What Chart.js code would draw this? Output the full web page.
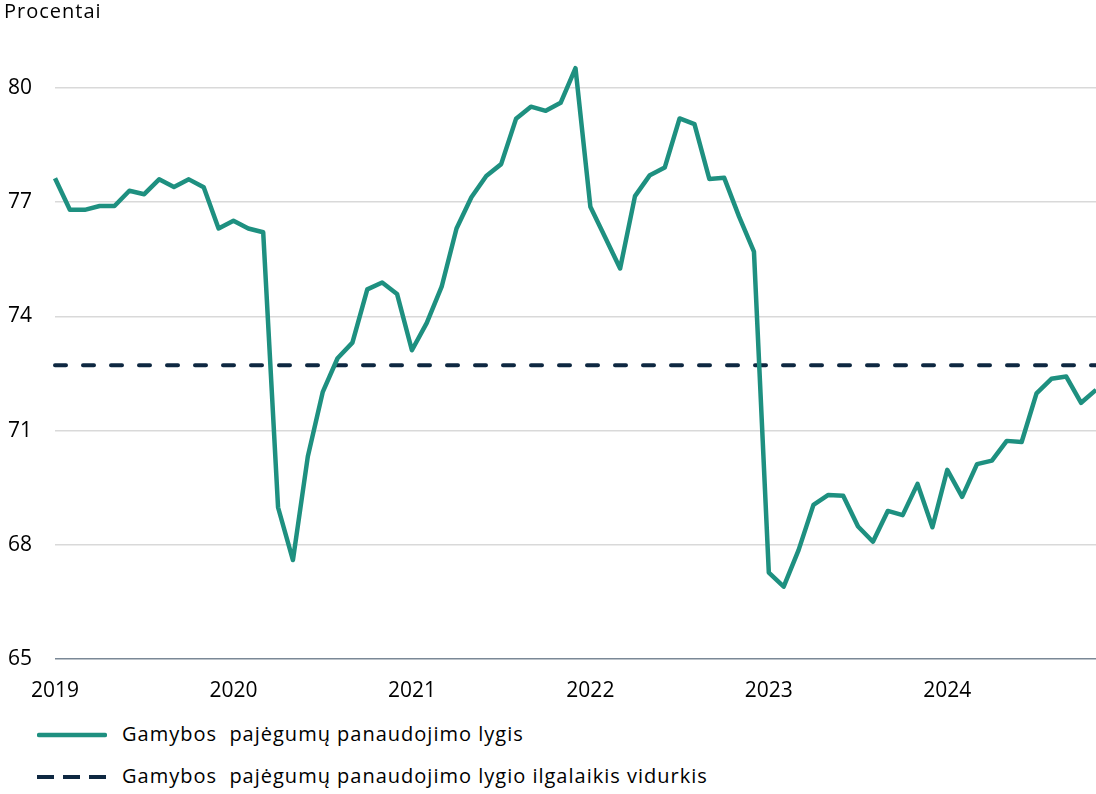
<!DOCTYPE html>
<html>
<head>
<meta charset="utf-8">
<script src="https://cdn.jsdelivr.net/npm/chart.js@4.4.1/dist/chart.umd.min.js"></script>
<style>
  body { margin: 0; background: #fff; font-family: 'Open Sans', sans-serif; color: #000; }
  #wrap { position: relative; width: 1096px; height: 794px; overflow: hidden; }
  #chart { position: absolute; left: 0; top: 0; }
  .unit { position: absolute; left: 4px; top: -1px; font-size: 20px; line-height: 24px; letter-spacing: 1px; }
  .legend { position: absolute; left: 37px; height: 24px; font-size: 20px; line-height: 24px; letter-spacing: 1px; }
  .legend svg { position: absolute; left: 0; top: 8px; }
  .legend span { position: absolute; left: 85px; top: -1px; white-space: pre; }
</style>
</head>
<body>
<div id="wrap">
  <canvas id="chart" width="1096" height="710"></canvas>
  <div class="unit">Procentai</div>
  <div class="legend" style="top:723px"><svg width="70" height="8"><line x1="2" y1="4" x2="68" y2="4" stroke="#1e9080" stroke-width="4.5" stroke-linecap="round"/></svg><span>Gamybos  pajėgumų panaudojimo lygis</span></div>
  <div class="legend" style="top:765px"><svg width="70" height="8"><line x1="0" y1="4" x2="70" y2="4" stroke="#0e2841" stroke-width="4" stroke-linecap="butt" stroke-dasharray="17 9"/></svg><span>Gamybos  pajėgumų panaudojimo lygio ilgalaikis vidurkis</span></div>
</div>
<script>
// monthly data, Jan 2019 - Nov 2024
const years = ['2019', '2020', '2021', '2022', '2023', '2024'];
const monthsInLastYear = 11;

const utilization = [
  77.63, 76.80, 76.80, 76.90, 76.90, 77.30, 77.21, 77.60, 77.40, 77.60, 77.39, 76.31,
  76.51, 76.31, 76.21, 68.98, 67.60, 70.32, 72.01, 72.90, 73.31, 74.71, 74.89, 74.59,
  73.11, 73.83, 74.78, 76.31, 77.13, 77.69, 78.00, 79.19, 79.51, 79.40, 79.61, 80.52,
  76.88, 76.07, 75.26, 77.16, 77.71, 77.91, 79.20, 79.05, 77.61, 77.64, 76.62, 75.70,
  67.27, 66.90, 67.86, 69.05, 69.31, 69.29, 68.48, 68.08, 68.89, 68.78, 69.60, 68.46,
  69.97, 69.26, 70.12, 70.21, 70.73, 70.70, 71.98, 72.36, 72.42, 71.73, 72.07
];
const longTermAverage = 72.72;
const yTicks = [65, 68, 71, 74, 77, 80];

// category labels like "2019-01"
const labels = [];
years.forEach((y, yi) => {
  const n = yi === years.length - 1 ? monthsInLastYear : 12;
  for (let m = 1; m <= n; m++) labels.push(y + '-' + String(m).padStart(2, '0'));
});

const ctx = document.getElementById('chart').getContext('2d');
new Chart(ctx, {
  type: 'line',
  data: {
    labels: labels,
    datasets: [
      {
        label: 'Gamybos pajėgumų panaudojimo lygis',
        data: utilization,
        borderColor: '#1e9080',
        borderWidth: 4.5,
        pointRadius: 0,
        tension: 0,
        borderJoinStyle: 'round',
        clip: false
      },
      {
        label: 'Gamybos pajėgumų panaudojimo lygio ilgalaikis vidurkis',
        data: [
          { x: labels[0], y: longTermAverage },
          { x: labels[labels.length - 1], y: longTermAverage }
        ],
        borderColor: '#0e2841',
        borderWidth: 4,
        borderDash: [11, 17],
        borderCapStyle: 'round',
        pointRadius: 0,
        clip: false
      }
    ]
  },
  options: {
    responsive: false,
    animation: false,
    layout: { padding: { top: 88, right: 0, left: 0, bottom: 0 } },
    plugins: {
      legend: { display: false },
      tooltip: { enabled: false }
    },
    scales: {
      x: {
        type: 'category',
        offset: false,
        grid: { display: false, drawTicks: false },
        border: { display: false },
        ticks: {
          autoSkip: false,
          maxRotation: 0,
          padding: 19,
          color: '#000',
          font: { family: 'Open Sans', size: 21 },
          callback: function (value, index) {
            return index % 12 === 0 ? labels[index].slice(0, 4) : null;
          }
        },
        afterFit: (scale) => { scale.height = 51; }
      },
      y: {
        min: 65,
        max: 80,
        afterBuildTicks: (scale) => { scale.ticks = yTicks.map(v => ({ value: v })); },
        grid: {
          drawTicks: false,
          lineWidth: 1.5,
          color: (c) => (c.tick && c.tick.value === 65 ? '#7a8896' : '#d9d9d9')
        },
        border: { display: false },
        ticks: {
          padding: 23,
          color: '#000',
          font: { family: 'Open Sans', size: 21 }
        },
        afterFit: (scale) => { scale.width = 55; }
      }
    }
  }
});
</script>
</body>
</html>
